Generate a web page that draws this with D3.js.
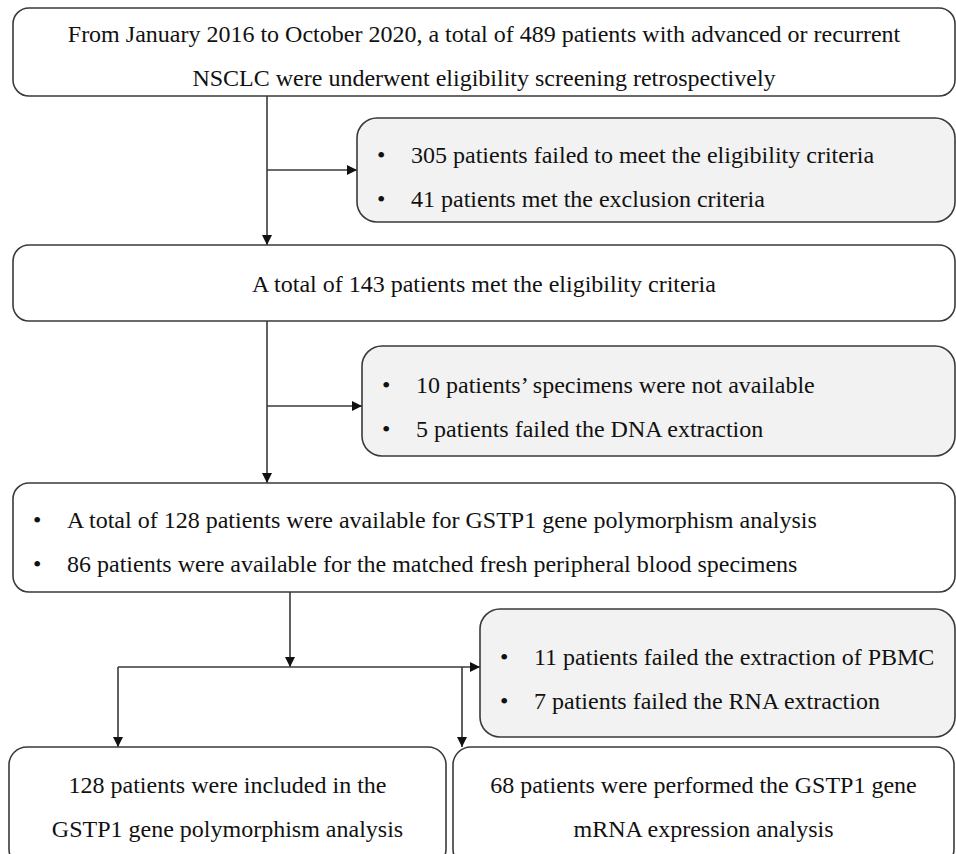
<!DOCTYPE html>
<html>
<head>
<meta charset="utf-8">
<script src="https://cdn.jsdelivr.net/npm/d3@7"></script>
<style>
  html, body { margin: 0; padding: 0; background: #fff; }
  svg { display: block; }
</style>
</head>
<body>
<div id="chart"></div>
<script>
// ==========================
// Flowchart content
// ==========================
const screeningText = [
    "From January 2016 to October 2020, a total of 489 patients with advanced or recurrent",
    "NSCLC were underwent eligibility screening retrospectively"
];
const exclusion1 = [
    "305 patients failed to meet the eligibility criteria",
    "41 patients met the exclusion criteria"
];
const eligibleText = ["A total of 143 patients met the eligibility criteria"];
const exclusion2 = [
    "10 patients\u2019 specimens were not available",
    "5 patients failed the DNA extraction"
];
const availableText = [
    "A total of 128 patients were available for GSTP1 gene polymorphism analysis",
    "86 patients were available for the matched fresh peripheral blood specimens"
];
const exclusion3 = [
    "11 patients failed the extraction of PBMC",
    "7 patients failed the RNA extraction"
];
const polymorphismText = [
    "128 patients were included in the",
    "GSTP1 gene polymorphism analysis"
];
const mrnaText = [
    "68 patients were performed the GSTP1 gene",
    "mRNA expression analysis"
];

const width = 956, height = 854;
const fontSize = 24;
const lineGap = 44;
const stroke = "#3a3a3a";

// box layout
const boxes = [
    { id: "screen",  x: 13,  y: 8,   w: 942, h: 88,  r: 16, fill: "#fff",    lines: screeningText,    align: "center", first: 42 },
    { id: "excl1",   x: 357, y: 118, w: 598, h: 104, r: 20, fill: "#f2f2f2", lines: exclusion1,       align: "bullet", first: 163 },
    { id: "elig",    x: 13,  y: 245, w: 942, h: 76,  r: 16, fill: "#fff",    lines: eligibleText,     align: "center", first: 292 },
    { id: "excl2",   x: 362, y: 346, w: 593, h: 110, r: 20, fill: "#f2f2f2", lines: exclusion2,       align: "bullet", first: 393 },
    { id: "avail",   x: 13,  y: 483, w: 942, h: 109, r: 16, fill: "#fff",    lines: availableText,    align: "bullet", first: 528 },
    { id: "excl3",   x: 480, y: 609, w: 475, h: 128, r: 20, fill: "#f2f2f2", lines: exclusion3,       align: "bullet", first: 665 },
    { id: "poly",    x: 9,   y: 747, w: 437, h: 120, r: 18, fill: "#fff",    lines: polymorphismText, align: "center", first: 793 },
    { id: "mrna",    x: 453, y: 747, w: 501, h: 120, r: 18, fill: "#fff",    lines: mrnaText,         align: "center", first: 793 }
];

// connectors: [points], arrow at end
const connectors = [
    { pts: [[267, 96], [267, 245]], arrow: true },
    { pts: [[267, 170], [357, 170]], arrow: true },
    { pts: [[267, 321], [267, 483]], arrow: true },
    { pts: [[267, 406], [362, 406]], arrow: true },
    { pts: [[290, 592], [290, 667]], arrow: true },
    { pts: [[118, 667], [480, 667]], arrow: true },
    { pts: [[118, 667], [118, 747]], arrow: true },
    { pts: [[462, 667], [462, 747]], arrow: true }
];

const svg = d3.select("#chart")
    .append("svg")
    .attr("width", width)
    .attr("height", height);

svg.append("defs")
    .append("marker")
    .attr("id", "arrow")
    .attr("viewBox", "0 0 10 10")
    .attr("refX", 10)
    .attr("refY", 5)
    .attr("markerUnits", "userSpaceOnUse")
    .attr("markerWidth", 11)
    .attr("markerHeight", 10)
    .attr("orient", "auto")
    .append("path")
    .attr("d", "M0,0L10,5L0,10Z")
    .attr("fill", "#111");

const line = d3.line();

svg.selectAll(".conn")
    .data(connectors)
    .enter()
    .append("path")
    .attr("class", "conn")
    .attr("d", d => line(d.pts))
    .attr("fill", "none")
    .attr("stroke", stroke)
    .attr("stroke-width", 1.6)
    .attr("marker-end", d => d.arrow ? "url(#arrow)" : null);

const g = svg.selectAll(".box")
    .data(boxes)
    .enter()
    .append("g")
    .attr("class", "box");

g.append("rect")
    .attr("x", d => d.x)
    .attr("y", d => d.y)
    .attr("width", d => d.w)
    .attr("height", d => d.h)
    .attr("rx", d => d.r)
    .attr("fill", d => d.fill)
    .attr("stroke", stroke)
    .attr("stroke-width", 1.6);

function addText(sel, x, y, t, anchor) {
    return sel.append("text")
        .attr("x", x)
        .attr("y", y)
        .attr("text-anchor", anchor)
        .attr("fill", "#111")
        .style("font-family", "'Liberation Serif', serif")
        .style("font-size", fontSize + "px")
        .text(t);
}

g.each(function (d) {
    const sel = d3.select(this);
    d.lines.forEach((t, i) => {
        const y = d.first + i * lineGap;
        if (d.align === "center") {
            addText(sel, d.x + d.w / 2, y, t, "middle");
        } else {
            addText(sel, d.x + 20, y, "\u2022", "start");
            addText(sel, d.x + 54, y, t, "start");
        }
    });
});
</script>
</body>
</html>
